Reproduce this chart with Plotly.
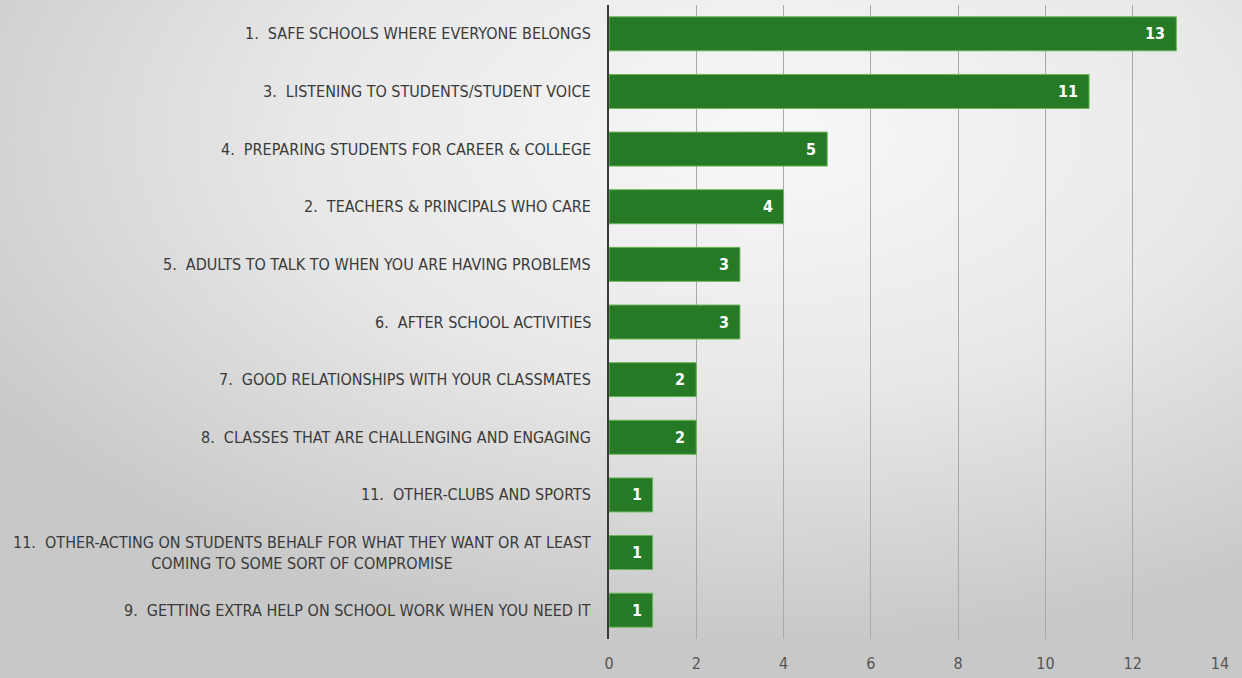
import base64
import plotly.graph_objects as go

categories = [
    "1.  SAFE SCHOOLS WHERE EVERYONE BELONGS",
    "3.  LISTENING TO STUDENTS/STUDENT VOICE",
    "4.  PREPARING STUDENTS FOR CAREER & COLLEGE",
    "2.  TEACHERS & PRINCIPALS WHO CARE",
    "5.  ADULTS TO TALK TO WHEN YOU ARE HAVING PROBLEMS",
    "6.  AFTER SCHOOL ACTIVITIES",
    "7.  GOOD RELATIONSHIPS WITH YOUR CLASSMATES",
    "8.  CLASSES THAT ARE CHALLENGING AND ENGAGING",
    "11.  OTHER-CLUBS AND SPORTS",
    "11.  OTHER-ACTING ON STUDENTS BEHALF FOR WHAT THEY WANT OR AT LEAST<br>COMING TO SOME SORT OF COMPROMISE",
    "9.  GETTING EXTRA HELP ON SCHOOL WORK WHEN YOU NEED IT",
]
values = [13, 11, 5, 4, 3, 3, 2, 2, 1, 1, 1]
x_ticks = [0, 2, 4, 6, 8, 10, 12, 14]

FONT = "Liberation Sans Narrow, DejaVu Sans Condensed, Arial Narrow, sans-serif"
W, H = 1242, 678
ML, MR, MT, MB = 609, 22, 5, 39
PW, PH = W - ML - MR, H - MT - MB

svg = f'''<svg xmlns="http://www.w3.org/2000/svg" width="{W}" height="{H}" viewBox="0 0 {W} {H}" preserveAspectRatio="none">
<defs><radialGradient id="g" cx="0.62" cy="0.2" r="0.75">
<stop offset="0" stop-color="#f8f8f8"/><stop offset="0.5" stop-color="#e8e8e8"/><stop offset="1" stop-color="#c8c8c8"/>
</radialGradient></defs><rect width="{W}" height="{H}" fill="url(#g)"/></svg>'''
bg_src = "data:image/svg+xml;base64," + base64.b64encode(svg.encode()).decode()

fig = go.Figure()
fig.add_trace(go.Bar(
    y=categories,
    x=values,
    orientation="h",
    marker=dict(color="#267a25", line=dict(color="#6bb55a", width=1)),
    showlegend=False,
    hoverinfo="skip",
))

for c, v in zip(categories, values):
    fig.add_annotation(
        x=0, y=c, xref="paper", yref="y",
        text=c, showarrow=False, xanchor="right", align="center",
        xshift=-16, font=dict(family=FONT, size=16, color="#3a3a3a"),
    )
    fig.add_annotation(
        x=v, y=c, xref="x", yref="y",
        text=str(v), showarrow=False, xanchor="right",
        xshift=-9, font=dict(family=FONT, size=16, color="white", weight="bold"),
    )

fig.update_layout(
    width=W, height=H,
    margin=dict(l=ML, r=MR, t=MT, b=MB, pad=0),
    paper_bgcolor="#d4d4d4",
    plot_bgcolor="rgba(0,0,0,0)",
    bargap=0.41,
    images=[dict(
        source=bg_src, xref="paper", yref="paper",
        x=-ML / PW, y=1 + MT / PH, sizex=W / PW, sizey=H / PH,
        xanchor="left", yanchor="top", sizing="stretch", layer="below",
    )],
    xaxis=dict(
        range=[0, 14], tickvals=x_ticks, showgrid=True, gridcolor="#a9a9a9",
        gridwidth=1, zeroline=False, showline=False,
        tickfont=dict(family=FONT, size=16, color="#555555"), ticks="",
        ticklabelstandoff=13,
    ),
    yaxis=dict(
        autorange="reversed", showticklabels=False, showgrid=False,
        showline=True, linecolor="#3a3a3a", linewidth=2, ticks="",
        zeroline=False,
    ),
)

fig.write_html("out.html")
